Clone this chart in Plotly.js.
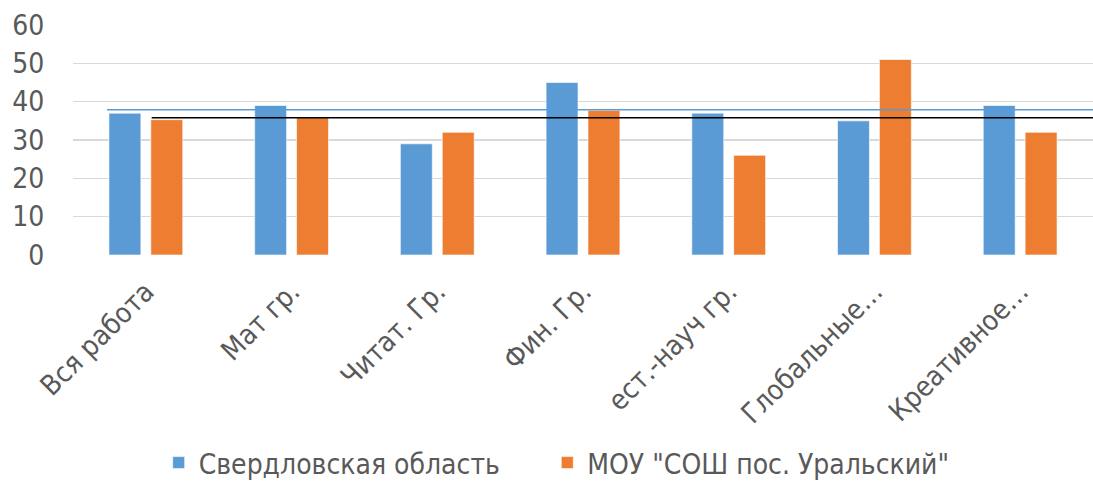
<!DOCTYPE html>
<html>
<head>
<meta charset="utf-8">
<script src="https://cdn.plot.ly/plotly-3.0.1.min.js"></script>
<style>html,body{margin:0;padding:0;background:#fff;}#chart{width:1093px;height:499px;}</style>
</head>
<body>
<div id="chart"></div>
<script>
var categories = ["Вся работа", "Мат гр.", "Читат. Гр.", "Фин. Гр.", "ест.-науч гр.", "Глобальные…", "Креативное…"];
var regionValues = [37, 39, 29, 45, 37, 35, 39];
var schoolValues = [35.3, 36, 32, 37.7, 26, 51, 32];
var seriesNames = ["Свердловская область", "МОУ \"СОШ пос. Уральский\""];
var regionAverage = [37.9];
var schoolAverage = [35.8];
var yTicks = [0, 10, 20, 30, 40, 50, 60];

var FONT = "'Liberation Sans Narrow', 'DejaVu Sans Condensed', 'Liberation Sans', sans-serif";
var blue = "#5B9BD5", orange = "#ED7D31";

var data = [
  {type: "bar", name: seriesNames[0], x: categories, y: regionValues, legend: "legend",
   marker: {color: blue, line: {color: "rgba(255,255,255,0.6)", width: 1}}},
  {type: "bar", name: seriesNames[1], x: categories, y: schoolValues, legend: "legend2",
   marker: {color: orange, line: {color: "rgba(255,255,255,0.6)", width: 1}}}
];

var legendBase = {orientation: "h", xanchor: "left", y: -0.904, yanchor: "middle",
                  font: {family: FONT, size: 28, color: "#595959"}, itemwidth: 30};

var layout = {
  width: 1093, height: 499,
  margin: {l: 73, r: 0, t: 25, b: 244},
  paper_bgcolor: "#fff", plot_bgcolor: "#fff",
  barmode: "group", bargap: 0.425, bargroupgap: 0.238,
  font: {family: FONT, color: "#595959", size: 28},
  showlegend: true,
  legend: Object.assign({}, legendBase, {x: 0.084}),
  legend2: Object.assign({}, legendBase, {x: 0.465}),
  xaxis: {type: "category", tickangle: -45, showgrid: false, zeroline: false, showline: false,
          ticks: "outside", ticklen: 8, tickcolor: "rgba(0,0,0,0)",
          tickfont: {family: FONT, size: 28, color: "#595959"}, range: [-0.5, 6.5]},
  yaxis: {range: [0, 60], tickvals: yTicks, ticktext: yTicks.map(String), showgrid: true,
          gridcolor: "#D9D9D9", gridwidth: 1.5, zeroline: false, showline: false,
          ticks: "outside", ticklen: 22, tickcolor: "rgba(0,0,0,0)",
          tickfont: {family: FONT, size: 28, color: "#595959"}},
  shapes: [
    {type: "line", xref: "x", yref: "y", x0: -0.267, x1: 6.5, y0: regionAverage[0], y1: regionAverage[0],
     line: {color: blue, width: 1.5}},
    {type: "line", xref: "x", yref: "y", x0: 0.04, x1: 6.5, y0: schoolAverage[0], y1: schoolAverage[0],
     line: {color: "#000000", width: 1.5}}
  ]
};

Plotly.newPlot("chart", data, layout, {displayModeBar: false, staticPlot: true});
</script>
</body>
</html>
